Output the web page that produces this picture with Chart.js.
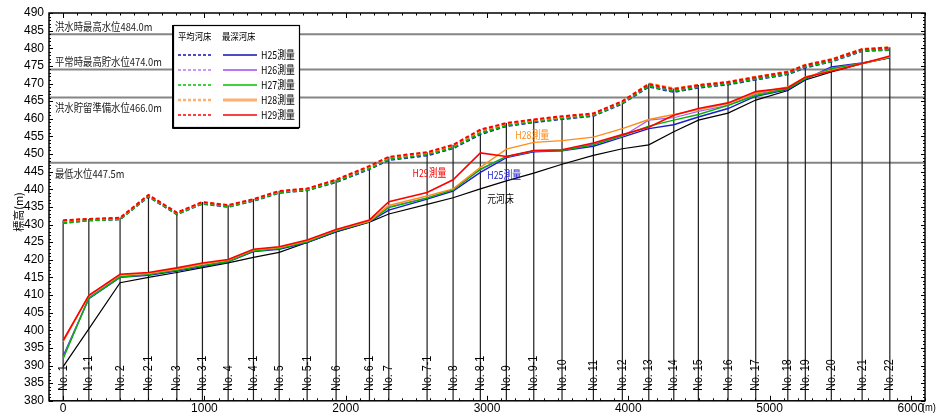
<!DOCTYPE html>
<html><head><meta charset="utf-8">
<script src="https://cdn.jsdelivr.net/npm/chart.js@4.4.1/dist/chart.umd.min.js"></script>
<style>html,body{margin:0;padding:0;background:#fff;}canvas{display:block;}</style>
</head><body>
<canvas id="c" width="937" height="413"></canvas>
<script>
// ---------- data ----------
const sections = ['No. 1','No. 1-1','No. 2','No. 2-1','No. 3','No. 3-1','No. 4','No. 4-1','No. 5','No. 5-1','No. 6','No. 6-1','No. 7','No. 7-1','No. 8','No. 8-1','No. 9','No. 9-1','No. 10','No. 11','No. 12','No. 13','No. 14','No. 15','No. 16','No. 17','No. 18','No. 19','No. 20','No. 21','No. 22'];
const distances = [0,182,403,604,805,986,1168,1347,1529,1727,1932,2168,2305,2576,2760,2953,3137,3331,3531,3753,3958,4145,4322,4496,4706,4902,5129,5253,5437,5655,5851];

// 平均河床 (mean bed, dashed)
const meanH25 = [430.5,431.2,431.5,437.9,432.9,435.9,435.0,436.7,439.0,439.7,442.0,445.7,448.3,449.6,451.6,455.6,457.9,459.0,459.9,460.8,464.3,469.1,467.6,468.8,469.7,471.1,472.6,474.5,476.2,479.2,479.6];
const meanH26 = [430.6,431.3,431.6,438.1,433.1,436.1,435.2,436.9,439.2,439.9,442.3,446.0,448.7,450.0,452.0,456.1,458.3,459.4,460.3,461.1,464.6,469.5,468.0,469.2,470.1,471.5,473.0,474.9,476.5,479.5,479.8];
const meanH27 = [430.4,431.2,431.5,438.0,433.0,436.0,435.1,436.8,439.1,439.8,442.2,445.9,448.5,449.9,451.8,455.9,458.1,459.2,460.1,461.0,464.5,469.3,467.8,469.0,469.9,471.3,472.8,474.7,476.3,479.3,479.5];
const meanH28 = [431.1,431.5,431.8,438.3,433.3,436.3,435.4,437.1,439.4,440.1,442.6,446.4,449.0,450.3,452.4,456.6,458.6,459.6,460.5,461.4,464.9,470.0,468.6,469.6,470.5,471.9,473.4,475.3,476.9,479.8,480.3];
const meanH29 = [431.2,431.6,431.9,438.4,433.4,436.4,435.5,437.2,439.5,440.2,442.7,446.6,449.2,450.5,452.6,456.9,458.8,459.8,460.7,461.5,465.0,469.8,468.4,469.5,470.4,471.8,473.3,475.2,476.8,479.7,480.2];

// 最深河床 (deepest bed, solid)
const deepH25 = [392.6,409.0,415.0,415.6,416.8,418.1,419.4,422.3,423.0,424.9,428.0,430.8,434.1,437.2,439.5,444.8,449.0,450.6,450.9,452.2,454.8,457.2,458.3,460.5,462.9,466.4,468.3,471.2,474.7,475.8,477.3];
const deepH26 = [392.3,409.3,415.3,415.9,417.1,418.4,419.6,422.6,423.3,425.2,428.3,430.9,435.0,437.6,439.9,445.5,449.2,450.8,451.0,452.8,455.0,459.6,460.3,462.1,463.8,467.0,468.6,471.5,474.4,475.7,477.5];
const deepH27 = [391.9,409.1,415.1,415.8,417.0,418.3,419.5,422.5,423.2,425.1,428.2,430.9,434.8,437.5,439.8,445.7,449.3,450.9,451.0,452.6,455.2,457.9,459.6,461.2,463.8,466.6,468.5,471.4,474.2,475.7,477.4];
const deepH28 = [396.8,409.8,415.7,416.2,417.4,418.8,419.9,422.8,423.5,425.4,428.4,431.0,435.4,438.1,440.1,446.2,451.4,453.3,453.8,454.8,457.2,459.8,461.2,462.6,464.3,467.3,469.0,471.9,473.7,475.6,477.6];
const deepH29 = [397.1,409.9,415.9,416.4,417.7,419.1,420.1,423.0,423.7,425.6,428.6,431.3,436.5,439.1,442.7,450.3,449.3,451.0,451.2,453.1,455.5,457.6,461.0,462.9,464.5,467.7,468.8,471.8,473.5,475.7,477.8];

// 元河床 (original bed)
const origBed = [389.7,400.4,413.5,415.0,416.4,417.8,419.1,420.7,422.1,424.9,427.9,430.7,433.0,435.7,437.6,440.1,442.4,444.6,447.1,449.6,451.5,452.6,456.3,459.6,461.6,465.3,468.0,471.0,473.3,475.6,477.3];

const waterLevels = [484.0, 474.0, 466.0, 447.5];
const waterLabels = ['洪水時最高水位484.0m','平常時最高貯水位474.0m','洪水貯留準備水位466.0m','最低水位447.5m'];
const surveyNames = ['H25測量','H26測量','H27測量','H28測量','H29測量'];
const xTicks = [0,1000,2000,3000,4000,5000,6000];
const yTicks = [380,385,390,395,400,405,410,415,420,425,430,435,440,445,450,455,460,465,470,475,480,485,490];

// ---------- styles ----------
const colors = {H25:'#1c1ccc', H26:'#a860ee', H27:'#00b400', H28:'#ff8c1a', H29:'#ff0000'};
const legendColors = ['#1010b0','#b878f4','#00c000','#ffb070','#ff0000'];
const CJK = '"Noto Sans CJK JP", sans-serif';
const NUM = '"Liberation Sans Narrow", "Liberation Sans", sans-serif';

function pts(arr){ return distances.map((d,i)=>({x:d, y:arr[i]})); }
function solid(label, arr, color, w){ return {label, data:pts(arr), borderColor:color, borderWidth:w||1.4, pointRadius:0, tension:0, fill:false}; }
function dashed(label, arr, color){ return {label, data:pts(arr), borderColor:color, borderWidth:2, borderDash:[4,2.5], pointRadius:0, tension:0, fill:false}; }

const datasets = [
  dashed('平均H29', meanH29, colors.H29),
  dashed('平均H28', meanH28, colors.H28),
  dashed('平均H27', meanH27, colors.H27),
  dashed('平均H26', meanH26, colors.H26),
  dashed('平均H25', meanH25, colors.H25),
  solid('H29測量', deepH29, colors.H29, 1.6),
  solid('H28測量', deepH28, colors.H28, 1.4),
  solid('H27測量', deepH27, colors.H27, 1.4),
  solid('H26測量', deepH26, colors.H26, 1.2),
  solid('H25測量', deepH25, colors.H25, 1.4),
  solid('元河床', origBed, '#000000', 1.2)
];

function txt(ctx, s, x, y, size, color, sx, opts){
  opts = opts || {};
  ctx.save();
  ctx.translate(x, y);
  if (opts.rot) ctx.rotate(opts.rot);
  ctx.scale(sx, 1);
  ctx.font = (opts.weight ? opts.weight + ' ' : '') + size + 'px ' + (opts.family || CJK);
  ctx.fillStyle = color;
  ctx.textAlign = opts.align || 'left';
  ctx.textBaseline = 'middle';
  ctx.fillText(s, 0, 0);
  ctx.restore();
}

const decor = {
  id: 'decor',
  beforeDatasetsDraw(chart){
    const {ctx, chartArea:a, scales:{x, y}} = chart;
    ctx.save();
    ctx.strokeStyle = '#858585'; ctx.lineWidth = 2;
    waterLevels.forEach(v=>{
      const py = y.getPixelForValue(v);
      ctx.beginPath(); ctx.moveTo(a.left, py); ctx.lineTo(a.right, py); ctx.stroke();
    });
    ctx.strokeStyle = '#1e1e1e'; ctx.lineWidth = 1.2;
    distances.forEach((d, i)=>{
      const top = Math.max(meanH25[i], meanH26[i], meanH27[i], meanH28[i], meanH29[i]);
      const px = x.getPixelForValue(d);
      ctx.beginPath(); ctx.moveTo(px, a.bottom); ctx.lineTo(px, y.getPixelForValue(top)); ctx.stroke();
    });
    ctx.restore();
  },
  afterDatasetsDraw(chart){
    const {ctx, chartArea:a, scales:{x, y}} = chart;
    // section labels
    distances.forEach((d, i)=>{
      const px = x.getPixelForValue(d);
      txt(ctx, sections[i], px, a.bottom - 10, 13, '#000', 0.82, {rot:-Math.PI/2, family:'"Liberation Sans", Arial, sans-serif'});
    });
    // water level labels
    const offs = [-7, -8, 10, 11];
    waterLevels.forEach((v, i)=>{
      txt(ctx, waterLabels[i], a.left + 6, y.getPixelForValue(v) + offs[i], 11, '#222', 0.85);
    });
    // in-chart labels
    txt(ctx, 'H28測量', x.getPixelForValue(3200), y.getPixelForValue(455.5), 11, colors.H28, 0.8);
    txt(ctx, 'H29測量', x.getPixelForValue(2473), y.getPixelForValue(444.7), 11, colors.H29, 0.8);
    txt(ctx, 'H25測量', x.getPixelForValue(3002), y.getPixelForValue(444.1), 11, colors.H25, 0.8);
    txt(ctx, '元河床', x.getPixelForValue(3002), y.getPixelForValue(437.3), 11, '#000', 0.8);
    // frame and inward ticks
    ctx.save();
    ctx.strokeStyle = '#000'; ctx.lineWidth = 1.5;
    ctx.strokeRect(a.left, a.top, a.right - a.left, a.bottom - a.top);
    ctx.lineWidth = 1;
    ctx.beginPath();
    for (let v = 380; v <= 490; v++){
      const py = Math.round(y.getPixelForValue(v)) + 0.5;
      const len = v % 5 === 0 ? 4 : 2;
      ctx.moveTo(a.left, py); ctx.lineTo(a.left + len, py);
      ctx.moveTo(a.right, py); ctx.lineTo(a.right - len, py);
    }
    for (let v = -100; v <= 6100; v += 100){
      const px = Math.round(x.getPixelForValue(v)) + 0.5;
      const len = v % 1000 === 0 ? 5 : 2.5;
      ctx.moveTo(px, a.bottom); ctx.lineTo(px, a.bottom - len);
      ctx.moveTo(px, a.top); ctx.lineTo(px, a.top + len);
    }
    ctx.stroke();
    ctx.restore();
  },
  afterDraw(chart){
    const {ctx, chartArea:a, scales:{x, y}} = chart;
    // axis title
    txt(ctx, '標高(m)', 19, 212, 11, '#000', 1, {rot:-Math.PI/2, align:'center'});
    // unit after 6000
    txt(ctx, '(m)', x.getPixelForValue(6000) + 11, a.bottom + 7, 11, '#000', 0.85, {family:NUM});
    // legend
    const L = a.left + 124, T = 25, W = 126, H = 102;
    ctx.save();
    ctx.fillStyle = '#fff';
    ctx.fillRect(L, T, W, H);
    ctx.strokeStyle = '#000'; ctx.lineWidth = 1.2;
    ctx.strokeRect(L + 0.5, T + 0.5, W, H);
    ctx.lineWidth = 1;
    ctx.beginPath(); ctx.moveTo(L - 0.5, T); ctx.lineTo(L - 0.5, T + H + 1.5); ctx.lineTo(L + W, T + H + 1.5); ctx.stroke();
    ctx.restore();
    txt(ctx, '平均河床', L + 5, T + 11, 9.5, '#000', 0.88);
    txt(ctx, '最深河床', L + 49, T + 11, 9.5, '#000', 0.88);
    surveyNames.forEach((s, i)=>{
      const ry = T + 30 + i * 15;
      ctx.save();
      ctx.strokeStyle = legendColors[i];
      ctx.lineWidth = (i === 3) ? 2.5 : 1.3;
      ctx.setLineDash([3, 2]);
      ctx.beginPath(); ctx.moveTo(L + 5, ry); ctx.lineTo(L + 39, ry); ctx.stroke();
      ctx.setLineDash([]);
      ctx.lineWidth = (i === 3) ? 3 : (i === 1 ? 2 : 1.5);
      ctx.beginPath(); ctx.moveTo(L + 50, ry); ctx.lineTo(L + 84, ry); ctx.stroke();
      ctx.restore();
      txt(ctx, s, L + 88, ry, 11, '#000', 0.8);
    });
  }
};

new Chart(document.getElementById('c'), {
  type: 'line',
  data: { datasets },
  plugins: [decor],
  options: {
    responsive: false,
    animation: false,
    events: [],
    layout: { padding: { top: 13, right: 12, left: 0, bottom: 0 } },
    plugins: { legend: { display: false }, tooltip: { enabled: false } },
    scales: {
      x: {
        type: 'linear', min: -100, max: 6100,
        afterBuildTicks: s => { s.ticks = xTicks.map(v => ({ value: v })); },
        afterFit: s => { s.height = 12; },
        grid: { display: false, drawTicks: false },
        border: { display: false },
        ticks: { color: '#000', padding: 1, maxRotation: 0, autoSkip: false, font: { family: NUM, size: 12 }, callback: v => String(v) }
      },
      y: {
        type: 'linear', min: 380, max: 490,
        afterBuildTicks: s => { s.ticks = yTicks.map(v => ({ value: v })); },
        afterFit: s => { s.width = 49; },
        grid: { display: false, drawTicks: false },
        border: { display: false },
        ticks: { color: '#000', padding: 5, autoSkip: false, font: { family: NUM, size: 12 }, callback: v => String(v) }
      }
    }
  }
});
</script>
</body></html>
